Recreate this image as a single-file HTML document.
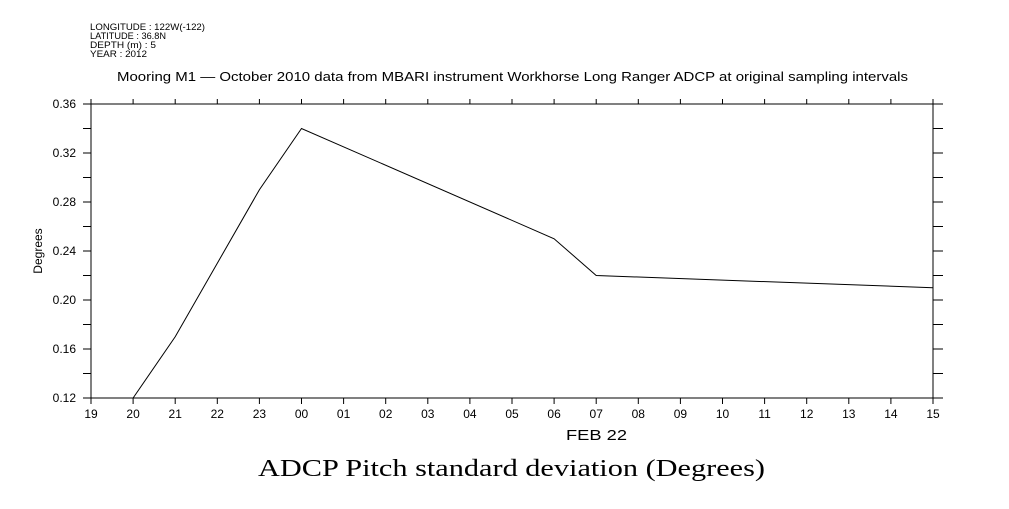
<!DOCTYPE html>
<html><head><meta charset="utf-8"><style>
body{margin:0;background:#fff;}
svg text{font-family:"Liberation Sans",sans-serif;fill:#000;}
</style></head><body>
<svg id="chart" width="1009" height="504" viewBox="0 0 1009 504" xmlns="http://www.w3.org/2000/svg">
<g font-size="9">
<text x="90" y="30" textLength="115" lengthAdjust="spacingAndGlyphs">LONGITUDE : 122W(-122)</text>
<text x="90" y="39" textLength="76" lengthAdjust="spacingAndGlyphs">LATITUDE : 36.8N</text>
<text x="90" y="48" textLength="66" lengthAdjust="spacingAndGlyphs">DEPTH (m) : 5</text>
<text x="90" y="57" textLength="57" lengthAdjust="spacingAndGlyphs">YEAR : 2012</text>
</g>
<text x="117" y="81" font-size="13" textLength="791" lengthAdjust="spacingAndGlyphs">Mooring M1 — October 2010 data from MBARI instrument Workhorse Long Ranger ADCP at original sampling intervals</text>
<g id="axes"></g>
<text x="42" y="251" font-size="12" text-anchor="middle" transform="rotate(-90 42 251)">Degrees</text>
<text x="566" y="440" font-size="15" textLength="61" lengthAdjust="spacingAndGlyphs">FEB 22</text>
<text x="258" y="476" font-size="24" textLength="507" lengthAdjust="spacingAndGlyphs" style="font-family:'Liberation Serif',serif">ADCP Pitch standard deviation (Degrees)</text>
</svg>
<script>
const xTickLabels=["19","20","21","22","23","00","01","02","03","04","05","06","07","08","09","10","11","12","13","14","15"];
const yTickValues=[0.12,0.14,0.16,0.18,0.20,0.22,0.24,0.26,0.28,0.30,0.32,0.34,0.36];
const seriesHours=[1,2,4,5,11,12,20];
const seriesValues=[0.12,0.17,0.29,0.34,0.25,0.22,0.21];
const L=91,R=933,T=104,B=398;
const NS="http://www.w3.org/2000/svg";
const g=document.getElementById('axes');
const xs=h=>L+(R-L)*h/20;
const ys=v=>B-(B-T)*(v-0.12)/0.24;
function mk(t,a){const e=document.createElementNS(NS,t);for(const k in a)e.setAttribute(k,a[k]);g.appendChild(e);return e;}
const frame=mk('rect',{x:L,y:T,width:R-L,height:B-T,fill:'none',stroke:'#000','stroke-width':1});


xTickLabels.forEach((lab,i)=>{
 const x=xs(i);
 const t1=mk('line',{x1:x,y1:B,x2:x,y2:B+6,stroke:'#000'});
 
 
 const t2=mk('line',{x1:x,y1:T,x2:x,y2:T-5,stroke:'#000'});
 
 
 const tx=mk('text',{x:x,y:B+20,'font-size':12,'text-anchor':'middle'});
 tx.textContent=lab;
 
 
});
yTickValues.forEach((v,i)=>{
 const y=ys(v);
 const t1=mk('line',{x1:L-8,y1:y,x2:L,y2:y,stroke:'#000'});
 
 
 const t2=mk('line',{x1:R,y1:y,x2:R+10,y2:y,stroke:'#000'});
 
 
 if(i%2===0){
  const tx=mk('text',{x:L-15,y:y+4,'font-size':12,'text-anchor':'end'});
  tx.textContent=v.toFixed(2);
  
  
 }
});
const pts=seriesHours.map((h,i)=>xs(h)+','+ys(seriesValues[i])).join(' ');
const pl=mk('polyline',{points:pts,fill:'none',stroke:'#000','stroke-width':1});


</script>
</body></html>
